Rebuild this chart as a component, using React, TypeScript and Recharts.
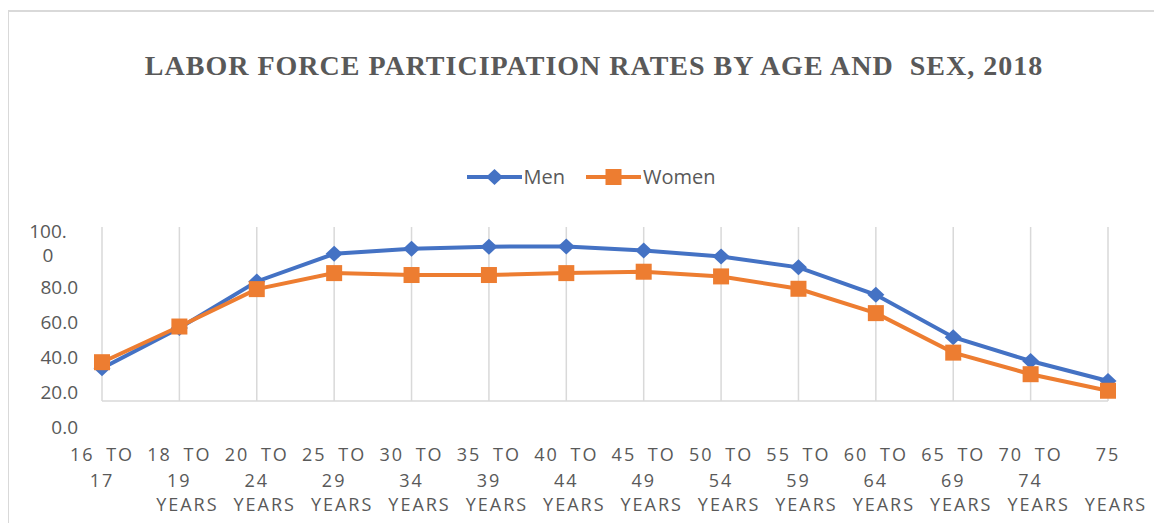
import React from 'react';
import { LineChart, Line, XAxis, YAxis, CartesianGrid, Legend } from 'recharts';

const categories = [
  '16 TO 17',
  '18 TO 19 YEARS',
  '20 TO 24 YEARS',
  '25 TO 29 YEARS',
  '30 TO 34 YEARS',
  '35 TO 39 YEARS',
  '40 TO 44 YEARS',
  '45 TO 49 YEARS',
  '50 TO 54 YEARS',
  '55 TO 59 YEARS',
  '60 TO 64 YEARS',
  '65 TO 69 YEARS',
  '70 TO 74 YEARS',
  '75 YEARS',
];
const men = [18.8, 42.0, 68.7, 84.6, 87.5, 88.7, 88.8, 86.5, 83.1, 76.8, 61.0, 36.7, 23.0, 11.5];
const women = [22.3, 42.8, 64.3, 73.5, 72.4, 72.4, 73.5, 74.3, 71.6, 64.5, 50.5, 27.8, 15.4, 5.9];
const yTicks = [0, 20, 40, 60, 80, 100];

const data = categories.map((name, i) => ({ name, men: men[i], women: women[i] }));

const BLUE = '#4472c4';
const ORANGE = '#ed7d31';
const GRID = '#d9d9d9';
const TEXT = '#595959';
const FONT = '"Open Sans", sans-serif';

const Diamond = ({ cx, cy }: any) => (
  <path d={`M${cx},${cy - 8}L${cx + 8.5},${cy}L${cx},${cy + 8}L${cx - 8.5},${cy}Z`} fill={BLUE} />
);
const Square = ({ cx, cy }: any) => <rect x={cx - 8} y={cy - 8} width={16} height={16} fill={ORANGE} />;

const YTick = (props: any) => {
  const { x, y, payload } = props;
  const label = payload.value.toFixed(1);
  if (payload.value === 100) {
    // Excel wrapped this one onto two lines
    return (
      <g>
        <text x={x - 54} y={y + 4} dy="0.35em" fill={TEXT} fontSize={19} fontFamily={FONT} textAnchor="middle">100.</text>
        <text x={x - 54} y={y + 28} dy="0.35em" fill={TEXT} fontSize={19} fontFamily={FONT} textAnchor="middle">0</text>
      </g>
    );
  }
  return (
    <text x={x - 24} y={y + 26} dy="0.35em" fill={TEXT} fontSize={19} fontFamily={FONT} textAnchor="end">
      {label}
    </text>
  );
};

const XTick = (props: any) => {
  const { x, y, payload } = props;
  const words = String(payload.value).split(' ');
  let l1 = words[0];
  let l2 = '';
  let l3 = '';
  if (words[1] === 'TO') {
    l1 = `${words[0]} TO`;
    l2 = words[2];
    l3 = words.slice(3).join(' ');
  } else {
    l3 = words.slice(1).join(' ');
  }
  const common = { fill: TEXT, fontSize: 18, fontFamily: FONT, textAnchor: 'middle' as const, letterSpacing: 2 };
  return (
    <g>
      <text x={x} y={y + 54} dy="0.35em" wordSpacing={5} {...common}>{l1}</text>
      {l2 && <text x={x} y={y + 80} dy="0.35em" {...common}>{l2}</text>}
      {l3 && <text x={x + 8} y={y + 104} dy="0.35em" {...common}>{l3}</text>}
    </g>
  );
};

const LegendContent = () => {
  const items = [
    { name: 'Men', color: BLUE, marker: <path d="M27.5,3L36,11L27.5,19L19,11Z" fill={BLUE} /> },
    { name: 'Women', color: ORANGE, marker: <rect x={19.5} y={3} width={16} height={16} fill={ORANGE} /> },
  ];
  return (
    <div style={{ display: 'flex', justifyContent: 'center', alignItems: 'center', marginLeft: 8 }}>
      {items.map((it, i) => (
        <div key={it.name} style={{ display: 'flex', alignItems: 'center', marginLeft: i ? 21 : 0 }}>
          <svg width={55} height={22}>
            <line x1={0} x2={55} y1={11} y2={11} stroke={it.color} strokeWidth={4} />
            {it.marker}
          </svg>
          <span style={{ marginLeft: 2, fontSize: 20, color: TEXT, fontFamily: FONT }}>{it.name}</span>
        </div>
      ))}
    </div>
  );
};

export default function App() {
  return (
    <div style={{ position: 'relative', left: -1, top: 2, width: 1160, height: 515 }}>
      <div
        style={{
          position: 'absolute',
          left: 0,
          top: 0,
          width: 1160,
          height: 515,
          borderTop: `2px solid ${GRID}`,
          borderLeft: `2px solid ${GRID}`,
          boxSizing: 'border-box',
        }}
      />
      <div
        style={{
          position: 'absolute',
          top: 42,
          left: 7,
          width: 1160,
          textAlign: 'center',
          fontFamily: '"Liberation Serif", "Times New Roman", serif',
          fontWeight: 'bold',
          fontSize: 28,
          letterSpacing: 1,
          lineHeight: '28px',
          color: TEXT,
          whiteSpace: 'pre',
        }}
      >
        LABOR FORCE PARTICIPATION RATES BY AGE AND  SEX, 2018
      </div>
      <LineChart width={1160} height={515} data={data} margin={{ top: 217, right: 59, left: 0, bottom: 0 }}>
        <CartesianGrid horizontal={false} stroke={GRID} strokeWidth={1.5} />
        <XAxis
          dataKey="name"
          interval={0}
          height={124}
          tickLine={false}
          tickSize={0}
          tickMargin={0}
          axisLine={{ stroke: GRID, strokeWidth: 1.5 }}
          tick={<XTick />}
        />
        <YAxis
          width={95}
          domain={[0, 100]}
          ticks={yTicks}
          axisLine={false}
          tickLine={false}
          tickSize={0}
          tickMargin={0}
          tick={<YTick />}
        />
        <Legend
          layout="horizontal"
          verticalAlign="middle"
          content={<LegendContent />}
          wrapperStyle={{ top: 153, left: 0, width: 1160 }}
        />
        <Line
          dataKey="men"
          name="Men"
          stroke={BLUE}
          strokeWidth={4}
          dot={<Diamond />}
          activeDot={false}
          isAnimationActive={false}
        />
        <Line
          dataKey="women"
          name="Women"
          stroke={ORANGE}
          strokeWidth={4}
          dot={<Square />}
          activeDot={false}
          isAnimationActive={false}
        />
      </LineChart>
    </div>
  );
}
